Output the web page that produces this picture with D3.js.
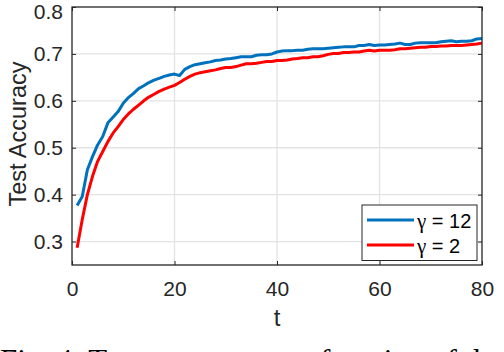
<!DOCTYPE html>
<html>
<head>
<meta charset="utf-8">
<script src="https://cdn.jsdelivr.net/npm/d3@7"></script>
<style>
  body { margin: 0; background: #fff; }
  svg { display: block; }
</style>
</head>
<body>
<div id="plot"></div>
<script>
'use strict';

// test accuracy per round t = 1..80
var epochs = d3.range(1, 81);

var gamma12 = [
  0.377, 0.396, 0.453, 0.481, 0.506, 0.524, 0.553, 0.565, 0.577, 0.595,
  0.607, 0.616, 0.626, 0.632, 0.639, 0.644, 0.648, 0.652, 0.655, 0.657,
  0.654, 0.667, 0.673, 0.677, 0.679, 0.681, 0.683, 0.686, 0.687, 0.689,
  0.690, 0.692, 0.694, 0.694, 0.694, 0.697, 0.698, 0.698, 0.700, 0.704,
  0.706, 0.707, 0.707, 0.708, 0.708, 0.710, 0.711, 0.711, 0.711, 0.712,
  0.713, 0.714, 0.715, 0.715, 0.715, 0.718, 0.718, 0.720, 0.718, 0.719,
  0.719, 0.720, 0.721, 0.723, 0.720, 0.720, 0.723, 0.724, 0.724, 0.724,
  0.724, 0.726, 0.727, 0.728, 0.726, 0.727, 0.727, 0.728, 0.732, 0.733
];

var gamma2 = [
  0.287, 0.347, 0.400, 0.439, 0.471, 0.492, 0.513, 0.531, 0.545, 0.560,
  0.572, 0.582, 0.591, 0.600, 0.608, 0.614, 0.620, 0.625, 0.629, 0.633,
  0.639, 0.646, 0.652, 0.657, 0.660, 0.662, 0.664, 0.666, 0.669, 0.671,
  0.671, 0.673, 0.676, 0.679, 0.679, 0.680, 0.682, 0.684, 0.684, 0.686,
  0.686, 0.687, 0.689, 0.690, 0.692, 0.692, 0.694, 0.694, 0.696, 0.699,
  0.701, 0.701, 0.703, 0.703, 0.704, 0.704, 0.706, 0.708, 0.706, 0.708,
  0.708, 0.708, 0.709, 0.711, 0.711, 0.712, 0.713, 0.714, 0.714, 0.716,
  0.716, 0.717, 0.717, 0.718, 0.718, 0.718, 0.719, 0.720, 0.721, 0.723
];

var xTicks = [0, 20, 40, 60, 80];
var yTicks = [0.3, 0.4, 0.5, 0.6, 0.7, 0.8];
var legendValues = ['12', '2'];
var captionText = 'Fig. 4: Test accuracy as a function of the number of rounds t';

var width = 504;
var height = 352;
var margin = { top: 7, right: 22, bottom: 87, left: 72 };
var plotW = width - margin.left - margin.right;
var plotH = height - margin.top - margin.bottom;
var axisColor = '#262626';
var sans = '"Liberation Sans", Arial, Helvetica, sans-serif';

var x = d3.scaleLinear().domain([0, 80]).range([0, plotW]);
var y = d3.scaleLinear().domain([0.25, 0.8]).range([plotH, 0]);

var svg = d3.select('#plot')
    .append('svg')
        .attr('width', width)
        .attr('height', height);

var g = svg.append('g')
    .attr('transform', 'translate(' + margin.left + ',' + margin.top + ')');

// grid
g.append('g')
    .selectAll('line')
    .data(xTicks.slice(1, -1))
    .enter()
    .append('line')
    .attr('x1', d => x(d)).attr('x2', d => x(d))
    .attr('y1', 0).attr('y2', plotH)
    .style('stroke', '#e3e3e3')
    .style('stroke-width', 1.3);

g.append('g')
    .selectAll('line')
    .data(yTicks.slice(0, -1))
    .enter()
    .append('line')
    .attr('x1', 0).attr('x2', plotW)
    .attr('y1', d => y(d)).attr('y2', d => y(d))
    .style('stroke', '#e3e3e3')
    .style('stroke-width', 1.3);

// curves
var line = d3.line()
    .x(d => x(d[0]))
    .y(d => y(d[1]));

var series = [
  { values: gamma12, color: '#0072BD' },
  { values: gamma2, color: '#FF0000' }
];

series.forEach(function (s) {
    g.append('path')
        .datum(epochs.map((t, i) => [t, s.values[i]]))
        .attr('d', line)
        .style('fill', 'none')
        .style('stroke', s.color)
        .style('stroke-width', 3)
        .style('stroke-linejoin', 'round');
});

// axes (box with inward ticks)
function styleAxis(sel) {
    sel.select('.domain').remove();
    sel.selectAll('line').style('stroke', axisColor);
    sel.selectAll('text')
        .style('font-family', sans)
        .style('font-size', '21px')
        .style('fill', axisColor);
}

g.append('g')
    .attr('transform', 'translate(0,' + plotH + ')')
    .call(d3.axisBottom(x).tickValues(xTicks).tickSize(-4).tickPadding(16).tickFormat(d3.format('d')))
    .call(styleAxis);

g.append('g')
    .call(d3.axisTop(x).tickValues(xTicks).tickSize(-4).tickFormat(''))
    .call(styleAxis);

var yAxis = g.append('g')
    .call(d3.axisLeft(y).tickValues(yTicks).tickSize(-4).tickPadding(9).tickFormat(d3.format('.1f')))
    .call(styleAxis);

// top label sits a little lower so it stays inside the image
yAxis.selectAll('.tick text')
    .filter(d => d === 0.8)
    .attr('dy', '0.55em');

g.append('g')
    .attr('transform', 'translate(' + plotW + ',0)')
    .call(d3.axisRight(y).tickValues(yTicks).tickSize(-4).tickFormat(''))
    .call(styleAxis);

g.append('rect')
    .attr('width', plotW)
    .attr('height', plotH)
    .style('fill', 'none')
    .style('stroke', axisColor)
    .style('stroke-width', 1.3);

// axis labels
g.append('text')
    .attr('x', plotW / 2)
    .attr('y', plotH + 61)
    .attr('text-anchor', 'middle')
    .style('font-family', sans)
    .style('font-size', '24px')
    .style('fill', axisColor)
    .text('t');

g.append('text')
    .attr('transform', 'translate(' + (-46) + ',' + (plotH / 2 - 2) + ') rotate(-90)')
    .attr('text-anchor', 'middle')
    .style('font-family', sans)
    .style('font-size', '23.5px')
    .style('fill', axisColor)
    .text('Test Accuracy');

// legend
var legend = g.append('g')
    .attr('transform', 'translate(' + (plotW - 120) + ',' + (plotH - 60) + ')');

legend.append('rect')
    .attr('width', 115)
    .attr('height', 55.5)
    .style('fill', '#fff')
    .style('stroke', axisColor)
    .style('stroke-width', 1);

legend.selectAll('g.item')
    .data(series)
    .enter()
    .append('g')
    .attr('class', 'item')
    .attr('transform', (d, i) => 'translate(0,' + (15 + i * 25) + ')')
    .each(function (d, i) {
        var item = d3.select(this);
        item.append('line')
            .attr('x1', 5).attr('x2', 52)
            .style('stroke', d.color)
            .style('stroke-width', 3);
        var label = item.append('text')
            .attr('x', 55)
            .attr('y', 7.5)
            .style('font-family', sans)
            .style('font-size', '20px')
            .style('fill', '#000');
        label.append('tspan')
            .style('font-family', '"Liberation Serif", "Times New Roman", serif')
            .style('font-size', '21px')
            .text('\u03b3');
        label.append('tspan')
            .text(' = ' + legendValues[i]);
    });

// caption cut at the bottom of the image
svg.append('text')
    .attr('x', 0)
    .attr('y', 371)
    .style('font-family', '"Liberation Serif", "Times New Roman", serif')
    .style('font-size', '31px')
    .style('fill', '#000')
    .text(captionText);
</script>
</body>
</html>
